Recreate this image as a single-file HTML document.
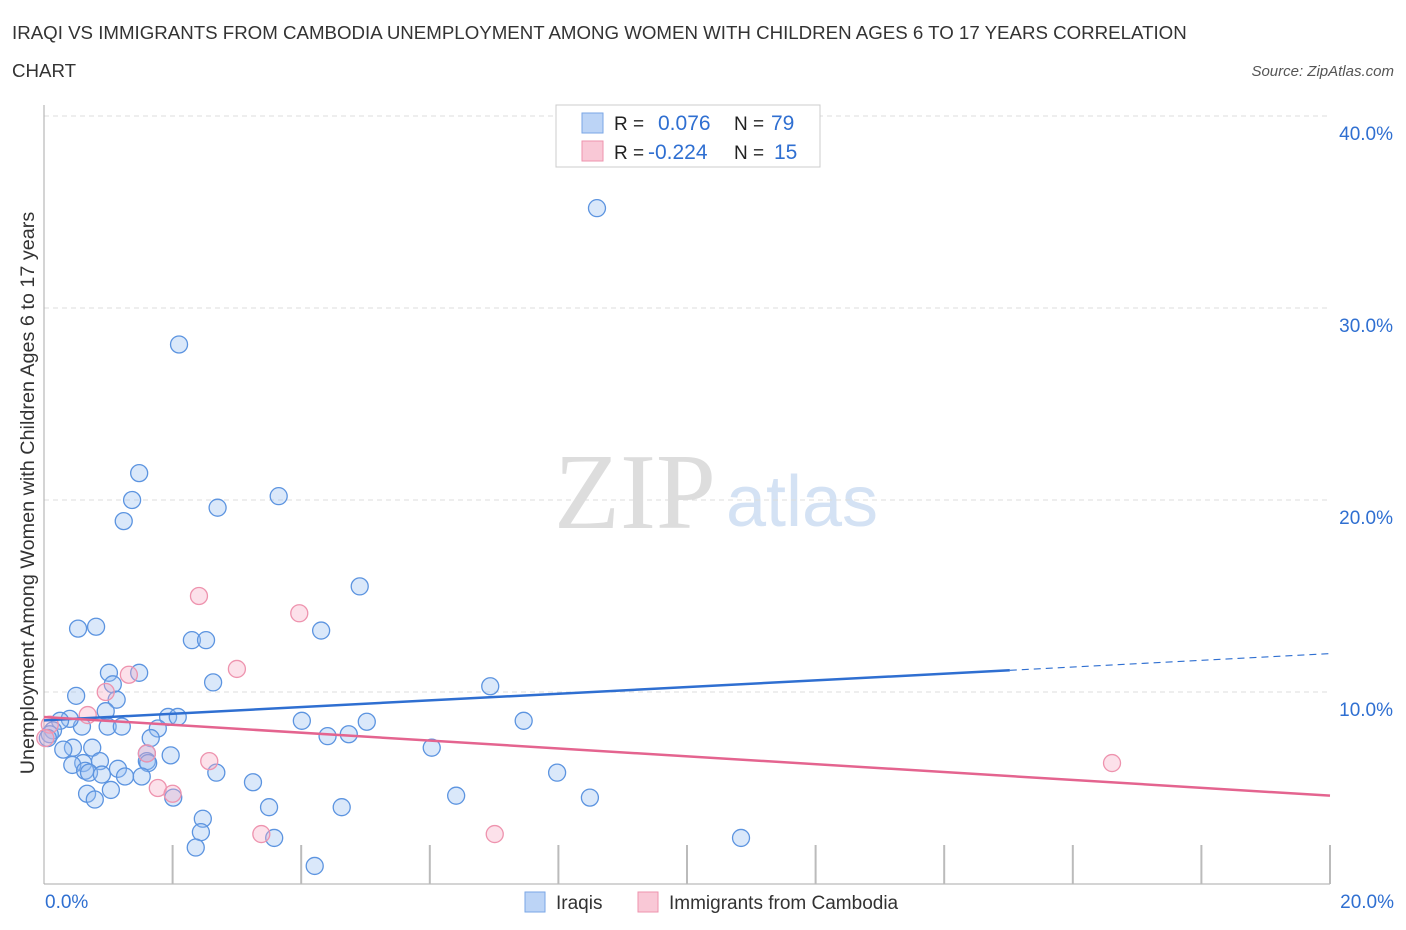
<!DOCTYPE html>
<html><head><meta charset="utf-8"><style>
body{margin:0;background:#fff;font-family:"Liberation Sans",sans-serif;}
svg{display:block}
</style></head><body>
<svg id="c" width="1406" height="930" xmlns="http://www.w3.org/2000/svg">
<text x="12" y="39" font-size="18.7" fill="#333">IRAQI VS IMMIGRANTS FROM CAMBODIA UNEMPLOYMENT AMONG WOMEN WITH CHILDREN AGES 6 TO 17 YEARS CORRELATION</text>
<text x="12" y="77" font-size="18.7" fill="#333">CHART</text>
<text x="1394" y="76" font-size="15" font-style="italic" fill="#555" text-anchor="end">Source: ZipAtlas.com</text>
<text x="635" y="528" font-size="108" font-family="Liberation Serif,serif" fill="#ddd" text-anchor="middle">ZIP</text>
<text x="802" y="526" font-size="72" fill="#d4e2f4" text-anchor="middle">atlas</text>
<text transform="translate(34,493) rotate(-90)" font-size="19.8" fill="#333" text-anchor="middle">Unemployment Among Women with Children Ages 6 to 17 years</text>
<g id="grid"></g><g id="pts"></g><g id="trend"></g>
<g>
<rect x="556" y="105" width="264" height="62" fill="#fff" stroke="#ccc"/>
<rect x="582" y="113" width="21" height="20" fill="#bcd4f6" stroke="#7aa6e6"/>
<rect x="582" y="141" width="21" height="20" fill="#f9c8d6" stroke="#ee93ae"/>
<text x="614" y="130" font-size="19" fill="#222">R =</text><text x="658" y="130" font-size="21" fill="#2f6fd1">0.076</text>
<text x="734" y="130" font-size="19" fill="#222">N =</text><text x="771" y="130" font-size="21" fill="#2f6fd1">79</text>
<text x="614" y="159" font-size="19" fill="#222">R =</text><text x="648" y="159" font-size="21" fill="#2f6fd1">-0.224</text>
<text x="734" y="159" font-size="19" fill="#222">N =</text><text x="774" y="159" font-size="21" fill="#2f6fd1">15</text>
</g>
<g>
<rect x="525" y="892" width="20" height="20" fill="#bcd4f6" stroke="#7aa6e6"/>
<text x="556" y="909" font-size="19" fill="#333">Iraqis</text>
<rect x="638" y="892" width="20" height="20" fill="#f9c8d6" stroke="#ee93ae"/>
<text x="669" y="909" font-size="19" fill="#333">Immigrants from Cambodia</text>
</g>
</svg>
<script>
const yTicks=[10,20,30,40];
const xTickLabels=["0.0%","20.0%"];
const iraqiX=[8.6,2.1,1.48,1.37,3.65,2.7,1.24,4.91,0.53,0.81,4.31,2.3,2.52,1.01,1.48,2.63,1.07,0.5,1.13,0.96,1.93,2.08,4.01,5.02,4.41,4.74,0.99,1.21,0.59,0.4,0.25,0.14,0.09,0.06,1.77,1.66,0.75,0.45,0.3,1.6,1.97,0.87,0.61,0.44,1.6,1.62,1.15,0.64,0.7,0.9,1.26,1.52,2.68,3.25,0.67,0.79,1.04,2.01,3.5,4.63,2.47,2.44,2.36,3.58,4.21,6.94,7.46,6.03,6.41,7.98,8.49,10.84];
const iraqiY=[35.2,28.1,21.4,20.0,20.2,19.6,18.9,15.5,13.3,13.4,13.2,12.7,12.7,11.0,11.0,10.5,10.4,9.8,9.6,9.0,8.7,8.7,8.5,8.45,7.7,7.8,8.2,8.2,8.2,8.6,8.5,8.0,7.8,7.6,8.1,7.6,7.1,7.1,7.0,6.8,6.7,6.4,6.3,6.2,6.4,6.3,6.0,5.9,5.8,5.7,5.6,5.6,5.8,5.3,4.7,4.4,4.9,4.5,4.0,4.0,3.4,2.7,1.9,2.4,0.94,10.3,8.5,7.1,4.6,5.8,4.5,2.4];
const cambX=[2.41,3.97,3.0,1.32,0.96,0.68,1.6,2.57,1.77,2.0,3.38,7.01,16.61,0.09,0.02];
const cambY=[15.0,14.1,11.2,10.9,10.0,8.8,6.8,6.4,5.0,4.7,2.6,2.6,6.3,8.3,7.6];
const X=v=>44+v/20*1286, Y=v=>884-v*19.2;
const NS="http://www.w3.org/2000/svg";
function mk(tag,attrs,parent){const e=document.createElementNS(NS,tag);for(const k in attrs)e.setAttribute(k,attrs[k]);parent.appendChild(e);return e;}
const grid=document.getElementById('grid');
yTicks.forEach(t=>{
 const l=mk('line',{x1:44,x2:1330,y1:Y(t),y2:Y(t),stroke:'#ddd','stroke-dasharray':'5,4'},grid);
 
 
 const tx=mk('text',{x:1393,y:Y(t)+24,'font-size':19,fill:'#2f6fd1','text-anchor':'end'},grid);
 tx.textContent=t.toFixed(1)+'%';
 
 
});
const ax=mk('line',{x1:44,x2:44,y1:105,y2:884,stroke:'#aaa'},grid);


const bx=mk('line',{x1:44,x2:1330,y1:884,y2:884,stroke:'#aaa'},grid);


for(let i=1;i<=10;i++){const t=mk('line',{x1:X(i*2),x2:X(i*2),y1:845,y2:884,stroke:'#bbb','stroke-width':2},grid);
 
 }
[[0,'start',45],[20,'end',1394]].forEach((d,i)=>{const t=mk('text',{x:d[2],y:908,'font-size':19,fill:'#2f6fd1','text-anchor':d[1]},grid);t.textContent=xTickLabels[i];
 
 });
const pts=document.getElementById('pts');
iraqiX.forEach((x,i)=>{const c=mk('circle',{cx:X(x),cy:Y(iraqiY[i]),r:8.5,fill:'rgba(150,188,240,0.35)',stroke:'#5c94e0','stroke-width':1.3},pts);
 
 });
cambX.forEach((x,i)=>{const c=mk('circle',{cx:X(x),cy:Y(cambY[i]),r:8.5,fill:'rgba(246,170,195,0.35)',stroke:'#ee93ae','stroke-width':1.3},pts);
 
 });
const tr=document.getElementById('trend');
const b1=mk('line',{x1:X(0),y1:Y(8.52),x2:X(15.02),y2:Y(11.13),stroke:'#2f6fd1','stroke-width':2.5},tr);


const b2=mk('line',{x1:X(15.02),y1:Y(11.13),x2:X(20),y2:Y(12.0),stroke:'#2f6fd1','stroke-width':1.2,'stroke-dasharray':'7,5'},tr);


const p1=mk('line',{x1:X(0),y1:Y(8.7),x2:X(20),y2:Y(4.6),stroke:'#e4648f','stroke-width':2.5},tr);


</script>
</body></html>
